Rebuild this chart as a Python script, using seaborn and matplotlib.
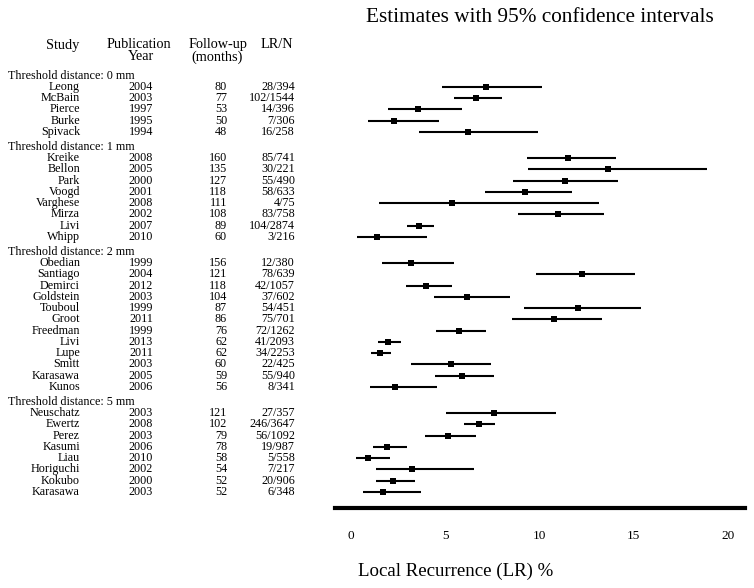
import numpy as np
import pandas as pd
import matplotlib
matplotlib.use("Agg")
import matplotlib.pyplot as plt
import matplotlib.transforms as mtransforms
import seaborn as sns

# ---------------- data ----------------
groups = ["Threshold distance: 0 mm", "Threshold distance: 1 mm",
          "Threshold distance: 2 mm", "Threshold distance: 5 mm"]
group_sizes = [5, 8, 12, 8]

studies = ["Leong", "McBain", "Pierce", "Burke", "Spivack",
           "Kreike", "Bellon", "Park", "Voogd", "Varghese", "Mirza", "Livi", "Whipp",
           "Obedian", "Santiago", "Demirci", "Goldstein", "Touboul", "Groot", "Freedman",
           "Livi", "Lupe", "Smitt", "Karasawa", "Kunos",
           "Neuschatz", "Ewertz", "Perez", "Kasumi", "Liau", "Horiguchi", "Kokubo", "Karasawa"]
years = [2004, 2003, 1997, 1995, 1994,
         2008, 2005, 2000, 2001, 2008, 2002, 2007, 2010,
         1999, 2004, 2012, 2003, 1999, 2011, 1999, 2013, 2011, 2003, 2005, 2006,
         2003, 2008, 2003, 2006, 2010, 2002, 2000, 2003]
followup = [80, 77, 53, 50, 48,
            160, 135, 127, 118, 111, 108, 89, 60,
            156, 121, 118, 104, 87, 86, 76, 62, 62, 60, 59, 56,
            121, 102, 79, 78, 58, 54, 52, 52]
lr_n = ["28/394", "102/1544", "14/396", "7/306", "16/258",
        "85/741", "30/221", "55/490", "58/633", "4/75", "83/758", "104/2874", "3/216",
        "12/380", "78/639", "42/1057", "37/602", "54/451", "75/701", "72/1262",
        "41/2093", "34/2253", "22/425", "55/940", "8/341",
        "27/357", "246/3647", "56/1092", "19/987", "5/558", "7/217", "20/906", "6/348"]
estimate = [7.15, 6.63, 3.54, 2.28, 6.21,
            11.53, 13.63, 11.37, 9.21, 5.36, 11.0, 3.62, 1.38,
            3.17, 12.27, 3.98, 6.17, 12.02, 10.75, 5.73, 1.96, 1.52, 5.29, 5.89, 2.35,
            7.59, 6.77, 5.15, 1.93, 0.88, 3.24, 2.21, 1.70]
ci_low = [4.81, 5.46, 1.98, 0.92, 3.63,
          9.34, 9.41, 8.58, 7.09, 1.50, 8.88, 2.99, 0.30,
          1.66, 9.83, 2.90, 4.39, 9.18, 8.56, 4.51, 1.41, 1.04, 3.18, 4.47, 1.01,
          5.06, 6.00, 3.93, 1.18, 0.28, 1.31, 1.34, 0.64]
ci_high = [10.15, 7.99, 5.87, 4.67, 9.92,
           14.06, 18.90, 14.16, 11.74, 13.14, 13.44, 4.39, 4.01,
           5.46, 15.07, 5.36, 8.42, 15.40, 13.30, 7.16, 2.65, 2.10, 7.44, 7.59, 4.58,
           10.86, 7.62, 6.61, 2.99, 2.07, 6.54, 3.40, 3.71]
x_ticks = [0, 5, 10, 15, 20]

# ---------------- layout (row positions) ----------------
group_gap = 15 / 11.25
rows = []
header_rows = []
pos = 0.0
for gi, n in enumerate(group_sizes):
    if gi > 0:
        pos += group_gap
    header_rows.append(pos)
    for k in range(n):
        pos += 1
        rows.append(pos)

df = pd.DataFrame({"study": studies, "year": years, "followup": followup,
                   "lrn": lr_n, "est": estimate, "lo": ci_low, "hi": ci_high,
                   "row": rows})

sns.set_style("white")
plt.rcParams["font.family"] = ["Liberation Serif", "DejaVu Serif"]
plt.rcParams["text.color"] = "black"
plt.rcParams["xtick.color"] = "black"
plt.rcParams["axes.labelcolor"] = "black"

W, H = 754, 588
fig = plt.figure(figsize=(W / 100, H / 100), dpi=100)

ax = fig.add_axes([335 / W, 1 - 508 / H, (745 - 335) / W, (508 - 40) / H])
ax.set_xlim(-0.85, 20.9)
ax.set_ylim(38.43, -3.17)

ax.hlines(df["row"], df["lo"], df["hi"], color="black", lw=1.5)
sns.scatterplot(data=df, x="est", y="row", marker="s", s=13, color="black",
                edgecolor="black", linewidth=0, ax=ax, zorder=3, legend=False)

for s in ["top", "right", "left"]:
    ax.spines[s].set_visible(False)
ax.spines["bottom"].set_linewidth(3)
ax.spines["bottom"].set_color("black")
ax.set_yticks([])
ax.set_xticks(x_ticks)
ax.set_xticklabels([str(t) for t in x_ticks], fontsize=9.5, color="black")
ax.tick_params(axis="x", length=0, pad=16)
ax.set_xlabel("")
ax.set_ylabel("")
ax.patch.set_alpha(0)

# ---------------- table text ----------------
tr = mtransforms.blended_transform_factory(fig.transFigure, ax.transData)
fs = 8.7
for g, hr in zip(groups, header_rows):
    ax.text(7.5 / W, hr, g, transform=tr, ha="left", va="center", fontsize=fs, clip_on=False)
for _, r in df.iterrows():
    ax.text(80 / W, r["row"], r["study"], transform=tr, ha="right", va="center", fontsize=fs, clip_on=False)
    ax.text(141 / W, r["row"], str(r["year"]), transform=tr, ha="center", va="center", fontsize=fs, clip_on=False)
    ax.text(227 / W, r["row"], str(r["followup"]), transform=tr, ha="right", va="center", fontsize=fs, clip_on=False)
    ax.text(295 / W, r["row"], r["lrn"], transform=tr, ha="right", va="center", fontsize=fs, clip_on=False)

hfs = 10.3
fig.text(62.5 / W, 1 - 45 / H, "Study", ha="center", va="center", fontsize=hfs)
fig.text(139 / W, 1 - 45 / H, "Publication", ha="center", va="center", fontsize=hfs)
fig.text(141 / W, 1 - 57 / H, "Year", ha="center", va="center", fontsize=hfs)
fig.text(218.5 / W, 1 - 44.5 / H, "Follow-up", ha="center", va="center", fontsize=hfs)
fig.text(217 / W, 1 - 57.5 / H, "(months)", ha="center", va="center", fontsize=hfs)
fig.text(277 / W, 1 - 45 / H, "LR/N", ha="center", va="center", fontsize=hfs)

fig.text(540 / W, 1 - 17 / H, "Estimates with 95% confidence intervals",
         ha="center", va="center", fontsize=15.3)
fig.text(455.5 / W, 1 - 571.5 / H, "Local Recurrence (LR) %",
         ha="center", va="center", fontsize=13.6)

fig.savefig("out.png", dpi=100, facecolor="white")
